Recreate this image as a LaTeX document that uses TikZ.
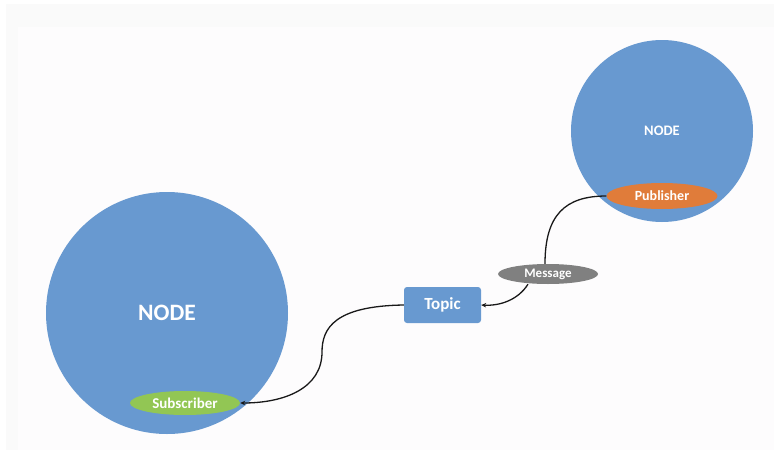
\documentclass[tikz,border=0pt]{standalone}
\usepackage{fontspec}
\setmainfont{Carlito}
\usetikzlibrary{arrows.meta,shapes.geometric}
\definecolor{nodeblue}{RGB}{104,153,208}
\definecolor{puborange}{RGB}{224,124,58}
\definecolor{msggray}{RGB}{128,128,128}
\definecolor{subgreen}{RGB}{146,198,84}
\definecolor{pagegray}{RGB}{250,250,250}
\definecolor{pagewhite}{RGB}{253,252,253}
\tikzset{
  bignode/.style={circle,fill=nodeblue,draw=none,inner sep=0pt,text=white,font=\bfseries},
  tag/.style={ellipse,draw=none,inner sep=0pt,text=white,font=\bfseries\fontsize{14}{16}\selectfont},
  topicbox/.style={rectangle,rounded corners=3pt,fill=nodeblue,draw=none,text=white,
    minimum width=77pt,minimum height=36pt,font=\bfseries\fontsize{17}{19}\selectfont},
  link/.style={line width=1.3pt,black!90},
  linkarrow/.style={link,-{Stealth[length=5pt,width=4.5pt]}}
}
\begin{document}
\begin{tikzpicture}[x=1pt,y=-1pt]
  \useasboundingbox (0,0) rectangle (774,450);
  % page backdrop
  \fill[white] (0,0) rectangle (774,450);
  \fill[pagegray] (6,4) rectangle (774,450);
  \fill[pagewhite] (18,27) rectangle (774,450);

  % the two ROS nodes
  \node[bignode,minimum size=242pt,font=\bfseries\fontsize{23.5}{26}\selectfont] (left) at (167,313) {NODE};
  \node[bignode,minimum size=182pt,font=\bfseries\fontsize{14.5}{16}\selectfont] (right) at (662,131) {NODE};

  % endpoints, message and topic
  \node[tag,fill=puborange,minimum width=111pt,minimum height=26pt] (pub) at (662,196) {Publisher};
  \node[tag,fill=subgreen,minimum width=110pt,minimum height=24pt,font=\bfseries\fontsize{15}{17}\selectfont] (sub) at (185,403) {Subscriber};
  \node[tag,fill=msggray,minimum width=100pt,minimum height=20pt,font=\bfseries\fontsize{13}{15}\selectfont] (msg) at (548,274) {Message};
  \node[topicbox] (topic) at (442.5,305) {Topic};

  % message flow
  \draw[link] (pub.west) .. controls (565,196) and (545,215) .. (msg.north -| 545,0);
  \draw[linkarrow] (msg.south -| 528,0) .. controls (518,300) and (500,306) .. (topic.east);
  \draw[linkarrow] (topic.west) .. controls (335,306) and (322,328) .. (322,352)
        .. controls (322,388) and (285,403) .. (sub.east);
\end{tikzpicture}
\end{document}
